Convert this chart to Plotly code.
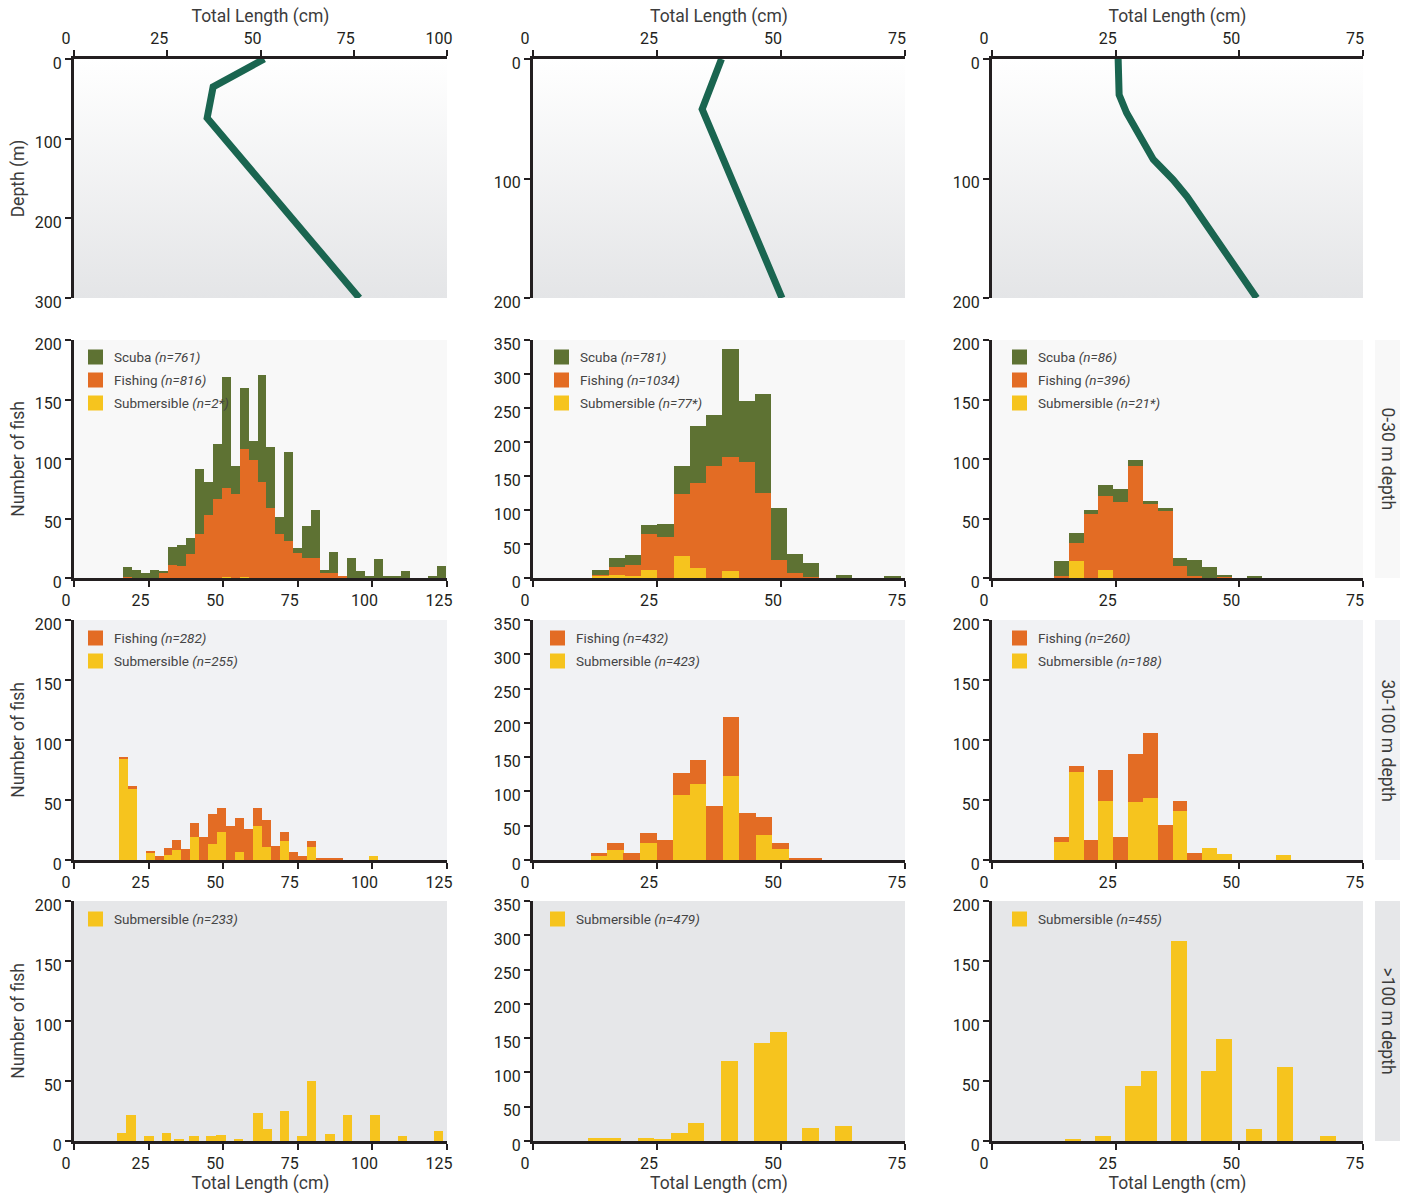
import base64
import plotly.graph_objects as go

# ---------------- data ----------------
# Mean total length (cm) versus depth (m), one profile per column
len_sp1 = [51, 37.3, 35.7, 76.5]
depth_sp1 = [0, 35, 74, 300]
len_sp2 = [38, 34.1, 50.2]
depth_sp2 = [0, 42, 200]
len_sp3 = [25.5, 25.7, 27.2, 29.9, 32.6, 34, 36.6, 39.4, 53.5]
depth_sp3 = [0, 30, 45, 65, 84, 90, 101, 115, 200]

# Length-frequency counts, 0-30 m depth
bins_sp1_shallow = [18, 21, 24, 27, 30, 33, 36, 39, 42, 45, 48, 51, 54, 57, 60, 63, 66, 69,
                    72, 75, 78, 81, 84, 87, 90, 93, 96, 99, 102, 105, 108, 111, 114, 117, 120, 123]
sub_sp1_shallow = [0, 0, 0, 0, 0, 0, 0, 0, 0, 0, 0, 1, 0, 1, 0, 0, 0, 0,
                   0, 0, 0, 0, 0, 0, 0, 0, 0, 0, 0, 0, 0, 0, 0, 0, 0, 0]
fishing_sp1_shallow = [1, 0, 0, 0, 4, 11, 10, 20, 37, 53, 66, 75, 71, 107, 99, 81, 59, 37,
                       31, 21, 17, 17, 4, 4, 1, 0, 0, 0, 0, 0, 0, 0, 0, 0, 0, 0]
scuba_sp1_shallow = [8, 7, 4, 7, 2, 15, 18, 14, 55, 28, 47, 93, 23, 52, 16, 90, 51, 14,
                     75, 4, 27, 40, 3, 18, 0, 17, 6, 1, 16, 1, 1, 6, 0, 0, 1, 10]

bins_sp2_shallow = [13.6, 16.9, 20.2, 23.4, 26.7, 30.0, 33.3, 36.5, 39.8, 43.1, 46.3, 49.6,
                    52.9, 56.1, 59.4, 62.7, 66.0, 69.2, 72.5]
sub_sp2_shallow = [3, 5, 3, 12, 0, 33, 14, 0, 10, 0, 0, 0, 0, 0, 0, 0, 0, 0, 0]
fishing_sp2_shallow = [1, 11, 16, 53, 61, 91, 125, 165, 168, 170, 125, 27, 8, 2, 0, 0, 0, 0, 0]
scuba_sp2_shallow = [8, 13, 15, 13, 19, 40, 85, 75, 159, 90, 146, 76, 27, 20, 0, 4, 0, 0, 3]

bins_sp3_shallow = [14, 17, 20, 23, 26, 29, 32, 35, 38, 41, 44, 47, 50, 53]
sub_sp3_shallow = [0, 14, 0, 7, 0, 0, 0, 0, 0, 0, 0, 0, 0, 0]
fishing_sp3_shallow = [2, 15, 54, 62, 64, 94, 62, 56, 10, 2, 0, 1, 0, 0]
scuba_sp3_shallow = [12, 9, 3, 9, 11, 5, 3, 3, 7, 13, 9, 1, 0, 2]

# Length-frequency counts, 30-100 m depth
bins_sp1_mid = [16.5, 19.5, 22.5, 25.5, 28.5, 31.5, 34.5, 37.5, 40.5, 43.5, 46.5, 49.5, 52.5,
                55.5, 58.5, 61.5, 64.5, 67.5, 70.5, 73.5, 76.5, 79.5, 82.5, 85.5, 88.5, 91.5,
                94.5, 97.5, 100.5]
sub_sp1_mid = [84, 59, 0, 6, 0, 4, 8, 0, 19, 0, 13, 23, 0, 7, 0, 28, 11, 0, 16, 0, 0, 11,
               0, 0, 0, 0, 0, 0, 3]
fishing_sp1_mid = [2, 3, 0, 1, 3, 6, 9, 9, 12, 19, 25, 20, 28, 28, 26, 15, 22, 12, 7, 7, 3, 5,
                   2, 2, 2, 0, 0, 0, 0]

bins_sp2_mid = [13.3, 16.6, 19.9, 23.3, 26.6, 29.9, 33.3, 36.6, 39.9, 43.2, 46.6, 49.9, 53.2, 56.5]
sub_sp2_mid = [6, 15, 0, 25, 0, 95, 111, 0, 123, 0, 37, 16, 0, 0]
fishing_sp2_mid = [4, 10, 10, 14, 29, 32, 35, 79, 86, 69, 25, 9, 3, 3]

bins_sp3_mid = [14, 17, 20, 23, 26, 29, 32, 35, 38, 41, 44, 47, 50, 53, 56, 59]
sub_sp3_mid = [15, 73, 0, 49, 0, 48, 52, 0, 41, 0, 10, 5, 0, 0, 0, 4]
fishing_sp3_mid = [4, 5, 17, 26, 19, 40, 54, 29, 8, 6, 0, 0, 0, 0, 0, 0]

# Length-frequency counts, >100 m depth (submersible only)
bins_sp1_deep = [16, 19.1, 25.1, 31, 35.1, 40.2, 46, 49.2, 55.2, 61.6, 64.7, 70.6, 76.4, 79.6,
                 85.7, 91.7, 100.8, 110.1, 122.2]
sub_sp1_deep = [7, 22, 4, 7, 2, 4, 4, 5, 2, 23, 10, 25, 4, 50, 6, 22, 22, 4, 8]

bins_sp2_deep = [12.7, 16.0, 22.8, 26.1, 29.5, 32.9, 39.6, 46.2, 49.5, 56.0, 62.6]
sub_sp2_deep = [4, 4, 4, 2, 12, 26, 117, 143, 159, 19, 22]

bins_sp3_deep = [16.3, 22.4, 28.5, 31.7, 37.8, 43.8, 46.9, 53, 59.2, 68]
sub_sp3_deep = [1, 4, 46, 58, 167, 58, 85, 10, 62, 4]

# Sample sizes shown in the keys
n_labels = {
    (1, 0): [("Scuba", "761"), ("Fishing", "816"), ("Submersible", "2*")],
    (1, 1): [("Scuba", "781"), ("Fishing", "1034"), ("Submersible", "77*")],
    (1, 2): [("Scuba", "86"), ("Fishing", "396"), ("Submersible", "21*")],
    (2, 0): [("Fishing", "282"), ("Submersible", "255")],
    (2, 1): [("Fishing", "432"), ("Submersible", "423")],
    (2, 2): [("Fishing", "260"), ("Submersible", "188")],
    (3, 0): [("Submersible", "233")],
    (3, 1): [("Submersible", "479")],
    (3, 2): [("Submersible", "455")],
}
depth_bands = ["0-30 m depth", "30-100 m depth", ">100 m depth"]

# ---------------- styling ----------------
W, H = 1409, 1195
FONT = "Roboto, sans-serif"
INK = "#231f20"
TXT = "#3c3c3c"
C_SCUBA = "#5e7233"
C_FISH = "#e36c24"
C_SUB = "#f6c41e"
C_LINE = "#1a6550"
COLORS = {"Scuba": C_SCUBA, "Fishing": C_FISH, "Submersible": C_SUB}
TICK_SIZE = 16
TITLE_SIZE = 17.5
KEY_SIZE = 13.5

COL_PX = [(74, 447), (533, 905), (992, 1363)]
ROW_PX = [(59, 298), (340, 578), (620, 860), (901, 1141)]
ROW_BG = [None, "#f8f8f8", "#f1f2f4", "#e6e7e9"]
HIST_XMAX = [125, 75, 75]
HIST_YMAX = [200, 350, 200]
TOP_XMAX = [100, 75, 75]
TOP_YMAX = [300, 200, 200]
KEY_LEFT = {1: [88, 554, 1012], 2: [88, 550, 1012], 3: [88, 550, 1012]}
KEY_TOP = {1: 357, 2: 638, 3: 919}


def px(x):
    return x / W


def py(y):
    return 1 - y / H


def ax_id(r, c):
    n = r * 3 + c + 1
    return ("" if n == 1 else str(n))


fig = go.Figure()
layout = dict(
    width=W, height=H, autosize=False,
    margin=dict(l=0, r=0, t=0, b=0, autoexpand=False),
    paper_bgcolor="white", plot_bgcolor="rgba(0,0,0,0)",
    barmode="stack", showlegend=False,
    font=dict(family=FONT, color=TXT),
)
shapes, annotations, images = [], [], []


def base_axis():
    return dict(showline=True, linecolor=INK, linewidth=3, ticks="outside", ticklen=6,
                tickwidth=2, tickcolor=INK, showgrid=False, zeroline=False, fixedrange=True,
                automargin=False,
                tickfont=dict(family=FONT, size=TICK_SIZE, color=INK))


# gradient backdrop for the depth-profile panels
svg = ('<svg xmlns="http://www.w3.org/2000/svg" width="100" height="100" viewBox="0 0 100 100" '
       'preserveAspectRatio="none"><defs><linearGradient id="g" x1="0" y1="0" x2="0" y2="1">'
       '<stop offset="0" stop-color="#ffffff"/><stop offset="1" stop-color="#e4e5e7"/>'
       '</linearGradient></defs><rect width="100" height="100" fill="url(#g)"/></svg>')
grad_src = "data:image/svg+xml;base64," + base64.b64encode(svg.encode()).decode()

profiles = [(len_sp1, depth_sp1), (len_sp2, depth_sp2), (len_sp3, depth_sp3)]
hist = {
    (1, 0): (bins_sp1_shallow, [("Submersible", sub_sp1_shallow), ("Fishing", fishing_sp1_shallow), ("Scuba", scuba_sp1_shallow)], 3.0),
    (1, 1): (bins_sp2_shallow, [("Submersible", sub_sp2_shallow), ("Fishing", fishing_sp2_shallow), ("Scuba", scuba_sp2_shallow)], 3.27),
    (1, 2): (bins_sp3_shallow, [("Submersible", sub_sp3_shallow), ("Fishing", fishing_sp3_shallow), ("Scuba", scuba_sp3_shallow)], 3.0),
    (2, 0): (bins_sp1_mid, [("Submersible", sub_sp1_mid), ("Fishing", fishing_sp1_mid)], 3.0),
    (2, 1): (bins_sp2_mid, [("Submersible", sub_sp2_mid), ("Fishing", fishing_sp2_mid)], 3.33),
    (2, 2): (bins_sp3_mid, [("Submersible", sub_sp3_mid), ("Fishing", fishing_sp3_mid)], 3.0),
    (3, 0): (bins_sp1_deep, [("Submersible", sub_sp1_deep)], 3.2),
    (3, 1): (bins_sp2_deep, [("Submersible", sub_sp2_deep)], 3.35),
    (3, 2): (bins_sp3_deep, [("Submersible", sub_sp3_deep)], 3.2),
}

for r in range(4):
    y0, y1 = ROW_PX[r]
    for c in range(3):
        x0, x1 = COL_PX[c]
        aid = ax_id(r, c)
        xa, ya = base_axis(), base_axis()
        xa.update(domain=[px(x0), px(x1)], anchor="y" + aid)
        ya.update(domain=[py(y1), py(y0)], anchor="x" + aid)

        if r == 0:
            xmax, ymax = TOP_XMAX[c], TOP_YMAX[c]
            xa.update(side="top", range=[0, xmax], tickvals=list(range(0, xmax + 1, 25)),
                      ticklabelshift=-8,
                      title=dict(text="Total Length (cm)", standoff=2,
                                 font=dict(family=FONT, size=TITLE_SIZE, color=TXT)))
            ya.update(range=[ymax, 0], tickvals=list(range(0, ymax + 1, 100)), ticklabelshift=-4)
            if c == 0:
                ya.update(title=dict(text="Depth (m)", standoff=6,
                                     font=dict(family=FONT, size=TITLE_SIZE, color=TXT)))
            images.append(dict(source=grad_src, xref="paper", yref="paper",
                               x=px(x0), y=py(y0), sizex=px(x1) - px(x0), sizey=py(y0) - py(y1),
                               xanchor="left", yanchor="top", sizing="stretch", layer="below"))
            lx, ly = profiles[c]
            fig.add_trace(go.Scatter(x=lx, y=ly, mode="lines", hoverinfo="skip",
                                     line=dict(color=C_LINE, width=7),
                                     xaxis="x" + aid, yaxis="y" + aid))
        else:
            xmax, ymax = HIST_XMAX[c], HIST_YMAX[c]
            xa.update(range=[0, xmax], tickvals=list(range(0, xmax + 1, 25)), ticklabelshift=-8)
            ya.update(range=[0, ymax], tickvals=list(range(0, ymax + 1, 50)), ticklabelshift=4)
            if c == 0:
                ya.update(title=dict(text="Number of fish", standoff=6,
                                     font=dict(family=FONT, size=TITLE_SIZE, color=TXT)))
            if r == 3:
                xa.update(title=dict(text="Total Length (cm)", standoff=0,
                                     font=dict(family=FONT, size=TITLE_SIZE, color=TXT)))
            shapes.append(dict(type="rect", xref="paper", yref="paper", layer="below",
                               x0=px(x0), x1=px(x1), y0=py(y1), y1=py(y0),
                               fillcolor=ROW_BG[r], line=dict(width=0)))
            bins, series, bw = hist[(r, c)]
            for name, vals in series:
                fig.add_trace(go.Bar(x=bins, y=vals, width=bw, name=name,
                                     marker=dict(color=COLORS[name], line=dict(width=0)),
                                     hoverinfo="x+y+name",
                                     xaxis="x" + aid, yaxis="y" + aid))
            # key
            kx = KEY_LEFT[r][c]
            for i, (name, n) in enumerate(n_labels[(r, c)]):
                cy = KEY_TOP[r] + 23 * i
                shapes.append(dict(type="rect", xref="paper", yref="paper",
                                   x0=px(kx), x1=px(kx + 15), y0=py(cy + 7.5), y1=py(cy - 7.5),
                                   fillcolor=COLORS[name], line=dict(width=0)))
                annotations.append(dict(xref="paper", yref="paper", x=px(kx + 24), y=py(cy),
                                        xanchor="left", yanchor="middle", showarrow=False,
                                        text=f"{name} <i>(n={n})</i>",
                                        font=dict(family=FONT, size=KEY_SIZE, color="#444444")))
        layout["xaxis" + aid] = xa
        layout["yaxis" + aid] = ya

    # depth band strip on the right
    if r > 0:
        shapes.append(dict(type="rect", xref="paper", yref="paper",
                           x0=px(1375), x1=px(1400), y0=py(y1), y1=py(y0),
                           fillcolor=ROW_BG[r], line=dict(width=0)))
        annotations.append(dict(xref="paper", yref="paper", x=px(1387.5), y=py((y0 + y1) / 2),
                                xanchor="center", yanchor="middle", showarrow=False,
                                textangle=90, text=depth_bands[r - 1],
                                font=dict(family=FONT, size=TITLE_SIZE, color=TXT)))

layout.update(shapes=shapes, annotations=annotations, images=images)
fig.update_layout(**layout)
fig.write_html("out.html")
